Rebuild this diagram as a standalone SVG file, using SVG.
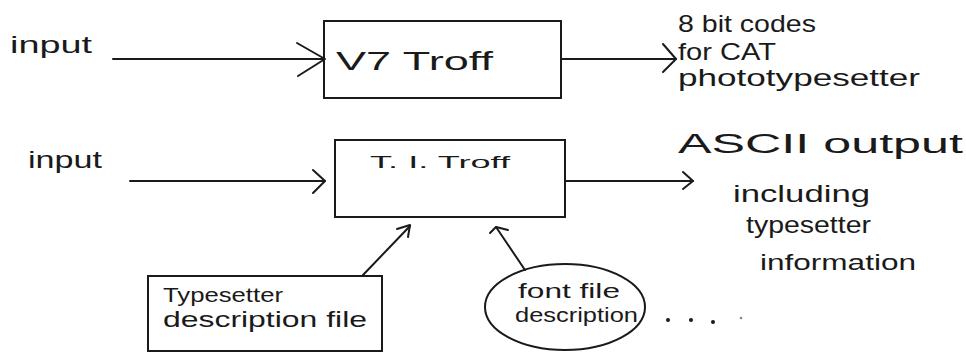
<svg xmlns="http://www.w3.org/2000/svg" width="966" height="353" viewBox="0 0 966 353">
<defs>
<style>
.t{font-family:"Liberation Sans","DejaVu Sans",sans-serif;fill:#1a1a1a}
.b{fill:none;stroke:#1a1a1a;stroke-width:2}
.c{fill:none;stroke:#1a1a1a;stroke-width:2;stroke-linecap:round;stroke-linejoin:round}
</style>
</defs>
<rect width="966" height="353" fill="#ffffff"/>
<g id="label-input-1"><text class="t" x="10" y="53" font-size="24" textLength="82" lengthAdjust="spacingAndGlyphs">input</text></g>
<g id="label-input-2"><text class="t" x="28" y="168" font-size="24" textLength="74" lengthAdjust="spacingAndGlyphs">input</text></g>
<g id="v7troff">
<rect class="b" x="324" y="21" width="237" height="77"/>
<text class="t" x="336" y="70" font-size="26" textLength="157" lengthAdjust="spacingAndGlyphs">V7 Troff</text>
</g>
<g id="titroff">
<rect class="b" x="335" y="140" width="230" height="77"/>
<text class="t" x="370" y="168" font-size="17" textLength="140" lengthAdjust="spacingAndGlyphs">T. I. Troff</text>
</g>
<g id="out-cat">
<text class="t" x="678" y="32" font-size="24" textLength="138" lengthAdjust="spacingAndGlyphs">8 bit codes</text>
<text class="t" x="678" y="60" font-size="24" textLength="98" lengthAdjust="spacingAndGlyphs">for CAT</text>
<text class="t" x="678" y="86" font-size="24" textLength="242" lengthAdjust="spacingAndGlyphs">phototypesetter</text>
</g>
<g id="out-ascii">
<text class="t" x="678" y="153" font-size="27" textLength="285" lengthAdjust="spacingAndGlyphs">ASCII output</text>
<text class="t" x="733" y="202" font-size="24" textLength="137" lengthAdjust="spacingAndGlyphs">including</text>
<text class="t" x="746" y="233" font-size="24" textLength="125" lengthAdjust="spacingAndGlyphs">typesetter</text>
<text class="t" x="760" y="270" font-size="22" textLength="156" lengthAdjust="spacingAndGlyphs">information</text>
</g>
<g id="typesetter-desc">
<path class="b" d="M148,276 H382 V351 H148 Z"/>
<text class="t" x="163" y="302" font-size="20" textLength="120" lengthAdjust="spacingAndGlyphs">Typesetter</text>
<text class="t" x="163" y="327" font-size="22" textLength="204" lengthAdjust="spacingAndGlyphs">description file</text>
</g>
<g id="font-desc">
<ellipse class="b" cx="565" cy="307" rx="80" ry="43"/>
<text class="t" x="518" y="298" font-size="20" textLength="102" lengthAdjust="spacingAndGlyphs">font file</text>
<text class="t" x="515" y="322" font-size="20" textLength="123" lengthAdjust="spacingAndGlyphs">description</text>
</g>
<g id="ellipsis" fill="#1a1a1a">
<circle cx="668" cy="320" r="2"/>
<circle cx="691" cy="320" r="2"/>
<circle cx="713" cy="322" r="2"/>
<circle cx="741" cy="318" r="1.3" fill="#888"/>
</g>
<g id="connectors">
<path class="c" d="M113,59 H324"/>
<path class="c" d="M297,43 L325,59 L298,76"/>
<path class="c" d="M561,59 H676"/>
<path class="c" d="M663,44 L676,59 L663,72"/>
<path class="c" d="M130,181 H325"/>
<path class="c" d="M313,170 L325,181 L313,193"/>
<path class="c" d="M565,181 H693"/>
<path class="c" d="M683,172 L693,181 L683,189"/>
<path class="c" d="M363,275 L410,226"/>
<path class="c" d="M397,229 L410,225 L408,237"/>
<path class="c" d="M525,270 L496,227"/>
<path class="c" d="M490,233 L496,227 L508,230"/>
</g>
</svg>
